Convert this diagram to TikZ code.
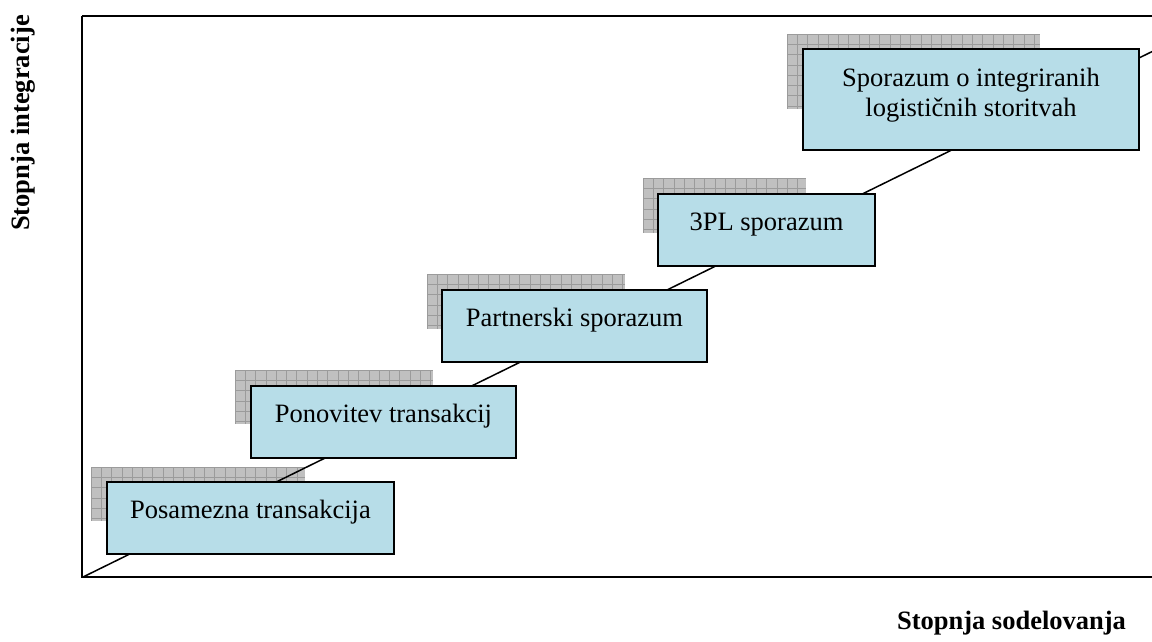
\documentclass[tikz,border=0pt]{standalone}
\usepackage{fontspec}
\setmainfont{Liberation Serif}
\definecolor{boxfill}{RGB}{183,221,232}
\definecolor{shadefill}{RGB}{192,192,192}
\definecolor{shadeline}{RGB}{155,155,155}
\tikzset{
  stagebox/.style={draw=black, line width=2pt, fill=boxfill, inner sep=0pt,
    font=\fontsize{26.5}{30}\selectfont, text height=36pt, text depth=36pt},
  shadowfill/.style={fill=shadefill},
  shadowline/.style={draw=shadeline, line width=0.8pt},
  axislabel/.style={font=\fontsize{26.5}{30.5}\selectfont\bfseries, inner sep=0pt},
  framebox/.style={draw=black, line width=2.2pt},
  diagline/.style={draw=black, line width=1.5pt}
}
\newcommand{\gridshadow}[4]{%
  \fill[shadowfill] (#1,#2) rectangle (#3,#4);
  \pgfmathsetmacro{\gxs}{#1+10.3}\pgfmathsetmacro{\gys}{#2+10.3}%
  \foreach \gx in {#1,\gxs,...,#3} \draw[shadowline] (\gx,#2) -- (\gx,#4);
  \foreach \gy in {#2,\gys,...,#4} \draw[shadowline] (#1,\gy) -- (#3,\gy);
}
\begin{document}
\begin{tikzpicture}[x=1pt,y=-1pt]
\clip (0,0) rectangle (1152,641);
\fill[white] (0,0) rectangle (1152,641);
% frame
\draw[framebox] (82,16) -- (1170,16) (82,16) -- (82,577) -- (1170,577);
% shadows
\gridshadow{91}{467}{305}{521}
\gridshadow{235}{370}{433}{424}
\gridshadow{427}{274}{625}{329}
\gridshadow{643}{178}{806}{233}
\gridshadow{787}{34}{1040}{109}
% diagonal
\coordinate (o) at (83,577);
\coordinate (e) at (1200,28);
\draw[diagline] (o) -- (e);
% boxes
\node[stagebox, minimum width=287pt] (b1) at (250.5,518) {Posamezna transakcija};
\node[stagebox, minimum width=265pt] (b2) at (383.5,422) {Ponovitev transakcij};
\node[stagebox, minimum width=265pt] (b3) at (574.5,326) {Partnerski sporazum};
\node[stagebox, minimum width=217pt] (b4) at (766.5,230) {3PL sporazum};
\node[stagebox, text height=, text depth=, minimum width=336pt, minimum height=101pt, align=center] (b5) at (971,99.5) {Sporazum o integriranih\\logističnih storitvah\rule[-14pt]{0pt}{1pt}};
% axis labels
\node[axislabel, rotate=90] (ylab) at (23,123) {Stopnja integracije};
\node[axislabel, anchor=base] (xlab) at (1011.5,629) {Stopnja sodelovanja};
\end{tikzpicture}
\end{document}
